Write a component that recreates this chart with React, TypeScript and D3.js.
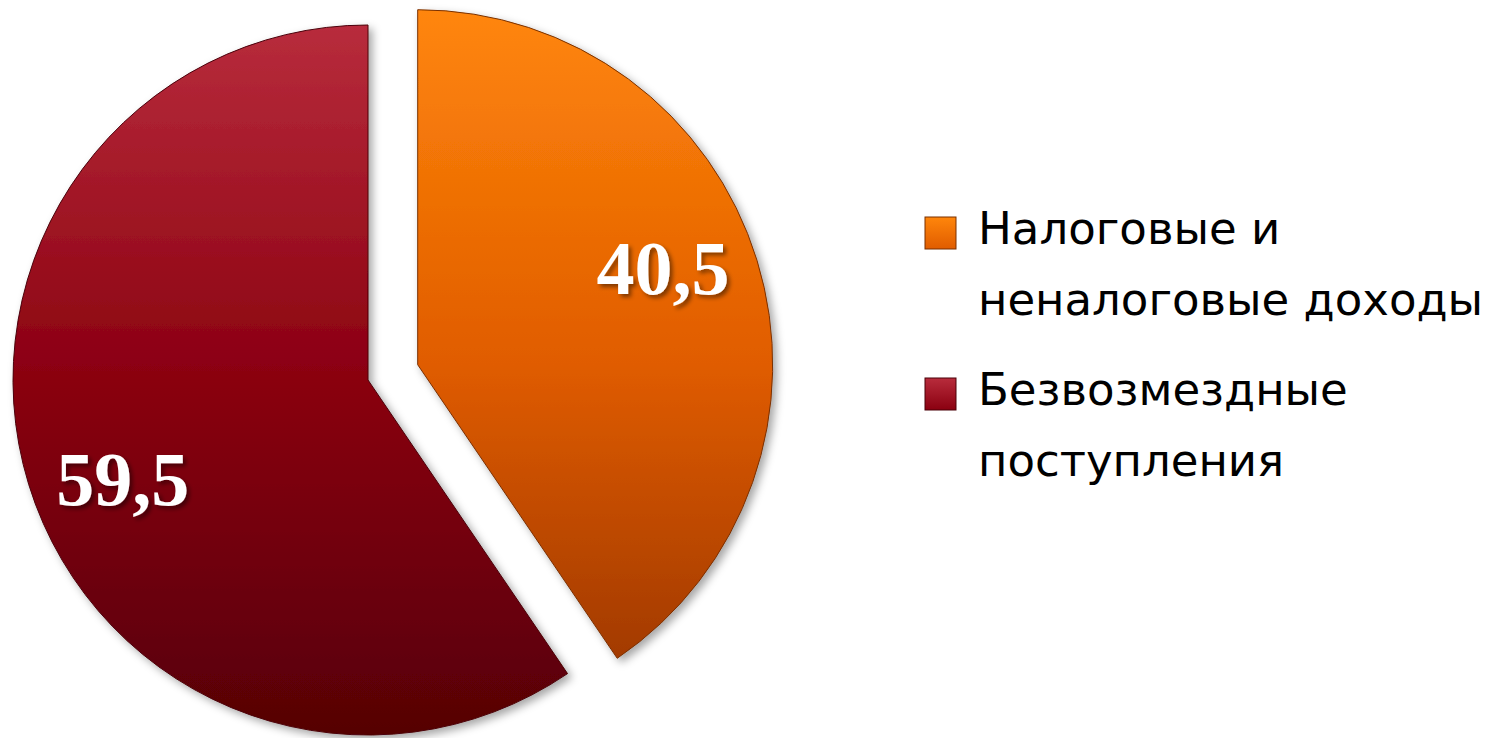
// @ts-nocheck
import React, { useEffect, useRef } from 'react'
import * as d3 from 'd3'

const categories = ['Налоговые и неналоговые доходы', 'Безвозмездные поступления']
const values = [40.5, 59.5]
const valueLabels = ['40,5', '59,5']
const legendLines = [['Налоговые и', 'неналоговые доходы'], ['Безвозмездные', 'поступления']]

const gradTop = ['#ff860b', '#b82c3c']
const gradMid = ['#e05c00', '#8a0010']
const gradBottom = ['#963300', '#560005']

const App: React.FC = () => {
    const ref = useRef<SVGSVGElement>(null)

    useEffect(() => {
        const width = 1494,
            height = 738,
            radius = 355,
            cx = 368,
            cy = 380,
            explode = 52

        const svg = d3.select(ref.current)
        svg.selectAll('*').remove()

        const defs = svg.append('defs')

        // soft drop shadow like the office bevel look
        const shadow = defs.append('filter').attr('id', 'shadow')
            .attr('x', '-10%').attr('y', '-10%').attr('width', '120%').attr('height', '120%')
        shadow.append('feDropShadow')
            .attr('dx', 4).attr('dy', 4).attr('stdDeviation', 4)
            .attr('flood-color', '#000').attr('flood-opacity', 0.35)

        const txtShadow = defs.append('filter').attr('id', 'txtShadow')
        txtShadow.append('feDropShadow')
            .attr('dx', 3).attr('dy', 3).attr('stdDeviation', 2)
            .attr('flood-color', '#000').attr('flood-opacity', 0.45)

        categories.forEach((c, i) => {
            // gradient in each slice's own (translated) space
            const g = defs.append('linearGradient').attr('id', `grad${i}`)
                .attr('gradientUnits', 'userSpaceOnUse')
                .attr('x1', 0).attr('x2', 0).attr('y1', -radius).attr('y2', radius)
            g.append('stop').attr('offset', '0%').attr('stop-color', gradTop[i])
            g.append('stop').attr('offset', '50%').attr('stop-color', gradMid[i])
            g.append('stop').attr('offset', '100%').attr('stop-color', gradBottom[i])

            const lg = defs.append('linearGradient').attr('id', `lgrad${i}`)
                .attr('x1', 0).attr('x2', 0).attr('y1', 0).attr('y2', 1)
            lg.append('stop').attr('offset', '0%').attr('stop-color', gradTop[i])
            lg.append('stop').attr('offset', '100%').attr('stop-color', gradMid[i])
        })

        svg.attr('width', width).attr('height', height)

        const pie = d3.pie<number>().sort(null).value(d => d)
        const arcs = pie(values)
        const arc = d3.arc().innerRadius(0).outerRadius(radius)
        const labelArc = d3.arc().innerRadius(264).outerRadius(264)
        const labelShift = -0.08 // labels sit a bit before the slice's middle angle

        // exploded offset for the first slice
        const offset = (d, i) => {
            if (i !== 0) return [0, 0]
            const a = (d.startAngle + d.endAngle) / 2
            return [Math.sin(a) * explode, -Math.cos(a) * explode]
        }

        const slices = svg.append('g')
        slices.selectAll('path')
            .data(arcs)
            .join('path')
            .attr('transform', (d, i) => {
                const [ox, oy] = offset(d, i)
                return `translate(${cx + ox}, ${cy + oy})`
            })
            .attr('d', arc)
            .attr('fill', (d, i) => `url(#grad${i})`)
            .attr('stroke', (d, i) => i === 0 ? '#7a3000' : '#4a0008')
            .attr('stroke-width', 1)
            .attr('filter', 'url(#shadow)')

        // value labels
        svg.append('g').selectAll('text')
            .data(arcs)
            .join('text')
            .attr('transform', (d, i) => {
                const [ox, oy] = offset(d, i)
                const [lx, ly] = labelArc.centroid({
                    startAngle: d.startAngle + labelShift,
                    endAngle: d.endAngle + labelShift
                })
                return `translate(${cx + ox + lx}, ${cy + oy + ly + 27})`
            })
            .attr('text-anchor', 'middle')
            .attr('font-family', '"Liberation Serif", "Times New Roman", serif')
            .attr('font-weight', 'bold')
            .attr('font-size', 76)
            .attr('fill', '#fff')
            .attr('filter', 'url(#txtShadow)')
            .text((d, i) => valueLabels[i])

        // legend
        const legend = svg.append('g').attr('transform', 'translate(925, 0)')
        const entryTop = [217, 378]
        legendLines.forEach((lines, i) => {
            const item = legend.append('g').attr('transform', `translate(0, ${entryTop[i]})`)
            item.append('rect')
                .attr('width', 31).attr('height', 32)
                .attr('fill', `url(#lgrad${i})`)
                .attr('stroke', i === 0 ? '#7a3000' : '#4a0008')
                .attr('stroke-width', 1)
            lines.forEach((line, j) => {
                item.append('text')
                    .attr('x', 53)
                    .attr('y', 27 + j * 71)
                    .attr('font-family', '"DejaVu Sans", Verdana, sans-serif')
                    .attr('font-size', 45)
                    .attr('fill', '#000')
                    .text(line)
            })
        })
    }, [])

    return <svg ref={ref} width='1494' height='738'
        style={{ position: 'absolute', left: 0, top: 0, background: '#fff' }}></svg>
}

export default App
